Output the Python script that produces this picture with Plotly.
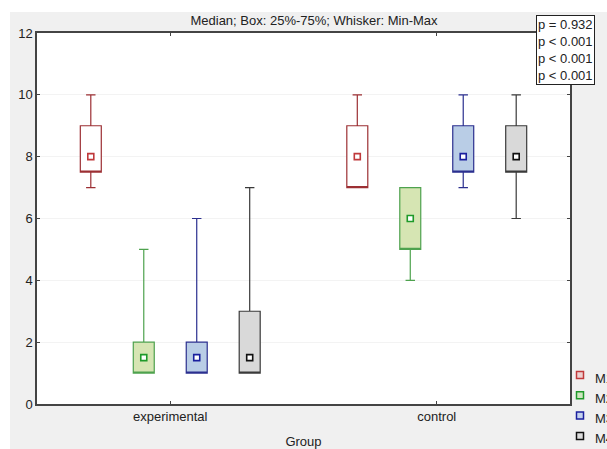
import plotly.graph_objects as go

groups = ["experimental", "control"]
series = ["M1", "M2", "M3", "M4"]

mins    = {"M1": [7, 7],   "M2": [1, 4],   "M3": [1, 7],   "M4": [1, 6]}
q1s     = {"M1": [7.5, 7], "M2": [1, 5],   "M3": [1, 7.5], "M4": [1, 7.5]}
medians = {"M1": [8, 8],   "M2": [1.5, 6], "M3": [1.5, 8], "M4": [1.5, 8]}
q3s     = {"M1": [9, 9],   "M2": [2, 7],   "M3": [2, 9],   "M4": [3, 9]}
maxs    = {"M1": [10, 10], "M2": [5, 7],   "M3": [6, 10],  "M4": [7, 10]}

p_values = ["p = 0.932", "p &lt; 0.001", "p &lt; 0.001", "p &lt; 0.001"]
y_ticks = [0, 2, 4, 6, 8, 10, 12]

line_colors = {"M1": "#9c2f33", "M2": "#4ea24e", "M3": "#2b2f8f", "M4": "#3a3a3a"}
fill_colors = {"M1": "#ffffff", "M2": "#d6e5b3", "M3": "#b9cde6", "M4": "#d9d9d9"}
med_colors  = {"M1": "#c0393b", "M2": "#1f9a2a", "M3": "#1a1f9e", "M4": "#111111"}
key_fills   = {"M1": "#edd0d0", "M2": "#cfe6c0", "M3": "#c4d2ee", "M4": "#dddddd"}

FONT = "Liberation Sans, Arial, sans-serif"

fig = go.Figure()
for s in series:
    fig.add_trace(go.Box(
        x=groups,
        q1=q1s[s], median=q1s[s], q3=q3s[s],
        lowerfence=mins[s], upperfence=maxs[s],
        name=s, offsetgroup=s, alignmentgroup="a",
        line=dict(color=line_colors[s], width=1.2),
        fillcolor=fill_colors[s],
        whiskerwidth=0.45,
        boxpoints=False,
        showlegend=False,
        hoverinfo="skip",
    ))
for s in series:
    fig.add_trace(go.Scatter(
        x=groups, y=medians[s],
        mode="markers", name=s,
        offsetgroup=s, alignmentgroup="a",
        marker=dict(symbol="square", size=6, color="white",
                    line=dict(color=med_colors[s], width=1.6)),
        showlegend=False,
    ))

# page margin removed via post_script, so figure starts at (0, 0)
W, H = 607, 449
L, T = 37, 33
PR, PB = 570, 404
R, B = W - PR, H - PB
pw, ph = PR - L, PB - T

def px2x(px):
    return (px - L) / pw

def px2y(py):
    return (PB - py) / ph

shapes = [
    dict(type="rect", xref="paper", yref="paper", layer="below",
         x0=px2x(-5), x1=px2x(W + 5), y0=px2y(-5), y1=px2y(12),
         fillcolor="white", line=dict(width=0)),
    dict(type="rect", xref="paper", yref="paper", layer="below",
         x0=px2x(-5), x1=px2x(10), y0=px2y(-5), y1=px2y(H + 5),
         fillcolor="white", line=dict(width=0)),
]
annotations = [dict(
    text="<br>".join(p_values), xref="paper", yref="paper",
    x=px2x(536), xanchor="left", y=px2y(15), yanchor="top",
    showarrow=False, align="left",
    bgcolor="white", bordercolor="#222222", borderwidth=1, borderpad=1,
    font=dict(size=13, family=FONT, color="#222222"),
)]

# legend (keys + labels), clipped at the right edge as in the reference
key_x, key_y0, key_dy, key_half = 580, 375, 20.3, 3.5
for i, s in enumerate(series):
    cy = key_y0 + i * key_dy
    shapes.append(dict(
        type="rect", xref="paper", yref="paper",
        x0=px2x(key_x - key_half), x1=px2x(key_x + key_half),
        y0=px2y(cy + key_half), y1=px2y(cy - key_half),
        fillcolor=key_fills[s], line=dict(color=med_colors[s], width=1.5),
    ))
    annotations.append(dict(
        text=s, xref="paper", yref="paper",
        x=px2x(593), xanchor="left", y=px2y(cy + 3), yanchor="middle",
        showarrow=False, font=dict(size=13, family=FONT, color="#222222"),
    ))

fig.update_layout(
    width=W, height=H,
    margin=dict(l=L, r=R, t=T, b=B, autoexpand=False),
    paper_bgcolor="#f0f0f0",
    plot_bgcolor="white",
    font=dict(family=FONT, size=13, color="#222222"),
    boxmode="group", boxgap=0.205, boxgroupgap=0.604,
    scattermode="group", scattergap=0.205,
    showlegend=False,
    title=dict(text="Median; Box: 25%-75%; Whisker: Min-Max",
               x=314 / W, xanchor="center",
               y=1 - 20 / H, yanchor="middle",
               font=dict(size=13, family=FONT, color="#222222")),
    xaxis=dict(
        categoryorder="array", categoryarray=groups,
        range=[-0.5, 1.5],
        showline=True, linecolor="#444444", linewidth=1.5, mirror="ticks",
        ticks="inside", ticklen=3, tickcolor="#444444",
        showgrid=False, zeroline=False,
        title=dict(text="Group", standoff=16, font=dict(size=13)),
        tickfont=dict(size=13),
    ),
    yaxis=dict(
        range=[0, 12], tickvals=y_ticks,
        showline=True, linecolor="#444444", linewidth=1.5, mirror="ticks",
        ticks="inside", ticklen=3, tickcolor="#444444",
        showgrid=True, gridcolor="#f3f3f3", gridwidth=1,
        zeroline=False,
        tickfont=dict(size=13),
    ),
    shapes=shapes,
    annotations=annotations,
)

fig.write_html(
    "out.html",
    config={"displayModeBar": False},
    post_script="document.body.style.margin='0';document.body.style.overflow='hidden';"
                "document.documentElement.style.overflow='hidden';",
)
